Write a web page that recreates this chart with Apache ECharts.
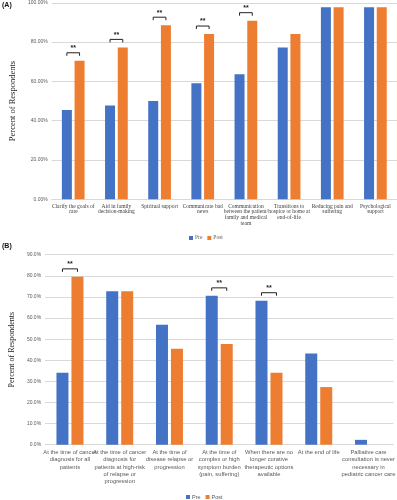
<!DOCTYPE html>
<html><head><meta charset="utf-8">
<script src="https://cdn.jsdelivr.net/npm/echarts@6/dist/echarts.min.js"></script>
<style>html,body{margin:0;padding:0;background:#fff}#c{width:397px;height:500px}</style>
</head><body><div id="c"></div>
<script>
const catsA = ["Clarify the goals of\ncare","Aid in family\ndecision-making","Spiritual support","Communicate bad\nnews","Communication\nbetween the patient/\nfamily and medical\nteam","Transitions to\nhospice or home at\nend-of-life","Reducing pain and\nsuffering","Psychological\nsupport"];
const preA  = [45.5, 47.7, 50.0, 59.1, 63.6, 77.3, 97.7, 97.7];
const postA = [70.5, 77.3, 88.6, 84.1, 90.9, 84.1, 97.7, 97.7];
const sigA  = [0, 1, 2, 3, 4];
const ticksA = [0, 20, 40, 60, 80, 100];

const catsB = ["At the time of cancer\ndiagnosis for all\npatients","At the time of cancer\ndiagnosis for\npatients at high-risk\nof relapse or\nprogression","At the time of\ndisease relapse or\nprogression","At the time of\ncomplex or high\nsymptom burden\n(pain, suffering)","When there are no\nlonger curative\ntherapeutic options\navailable","At the end of life","Palliative care\nconsultation is never\nnecessary in\npediatric cancer care"];
const preB  = [34.1, 72.7, 56.8, 70.5, 68.2, 43.2, 2.3];
const postB = [79.5, 72.7, 45.5, 47.7, 34.1, 27.3, 0];
const sigB  = [0, 3, 4];
const ticksB = [0, 10, 20, 30, 40, 50, 60, 70, 80, 90];

const seriesNames = ["Pre", "Post"];
const BLUE = '#4472C4', ORANGE = '#ED7D31';

function bracketSeries(xi, yi, sig, pre, post, bw, gap) {
  return {
    type: 'custom', xAxisIndex: xi, yAxisIndex: yi, silent: true, z: 5,
    data: sig.map(i => [i, Math.max(pre[i], post[i])]),
    renderItem: function (params, api) {
      const p = api.coord([api.value(0), api.value(1)]);
      const off = (bw + gap) / 2;
      const x1 = p[0] - off, x2 = p[0] + off;
      const y = p[1] - 8;
      return {
        type: 'group',
        children: [
          {type: 'polyline', shape: {points: [[x1, y + 3], [x1, y], [x2, y], [x2, y + 3]]},
           style: {stroke: '#222', lineWidth: 1, fill: null}},
          {type: 'text', x: (x1 + x2) / 2, y: y - 1,
           style: {text: '**', fill: '#222', font: 'bold 7px "Liberation Sans"', align: 'center', verticalAlign: 'bottom'}}
        ]
      };
    }
  };
}

const chart = echarts.init(document.getElementById('c'), null, {renderer: 'canvas'});
const gridCol = '#d9d9d9';
chart.setOption({
  animation: false,
  textStyle: {fontFamily: 'Liberation Sans'},
  graphic: [
    {type: 'text', left: 2, top: 2, style: {text: '(A)', font: 'bold 7px "Liberation Sans"', fill: '#111'}},
    {type: 'text', left: 2, top: 243, style: {text: '(B)', font: 'bold 7px "Liberation Sans"', fill: '#111'}}
  ],
  legend: [
    {data: seriesNames, left: 189, top: 235, padding: 0, itemWidth: 4, itemHeight: 4, itemGap: 5, icon: 'rect',
     textStyle: {fontSize: 5.5, color: '#595959', fontFamily: 'Liberation Serif', padding: [0, 0, 0, -3]}},
    {data: seriesNames, left: 186, top: 494, padding: 0, itemWidth: 4, itemHeight: 4, itemGap: 5, icon: 'rect',
     textStyle: {fontSize: 5.5, color: '#595959', fontFamily: 'Liberation Sans', padding: [0, 0, 0, -3]}}
  ],
  grid: [
    {left: 37, top: 2.8, width: 360, height: 196.5},
    {left: 28, top: 254.7, width: 368, height: 190}
  ],
  xAxis: [
    {type: 'category', gridIndex: 0, data: catsA,
     axisLine: {lineStyle: {color: gridCol}}, axisTick: {show: false},
     axisLabel: {interval: 0, fontSize: 5.5, lineHeight: 5.8, color: '#404040', fontFamily: 'Liberation Serif', margin: 4}},
    {type: 'category', gridIndex: 1, data: catsB,
     axisLine: {lineStyle: {color: gridCol}}, axisTick: {show: false},
     axisLabel: {interval: 0, fontSize: 5.8, lineHeight: 7.3, color: '#595959', fontFamily: 'Liberation Sans', margin: 4}}
  ],
  yAxis: [
    {type: 'value', gridIndex: 0, min: ticksA[0], max: ticksA[ticksA.length - 1], interval: ticksA[1] - ticksA[0],
     name: 'Percent of Respondents', nameLocation: 'middle', nameGap: 31, nameRotate: 90,
     nameTextStyle: {fontFamily: 'Liberation Serif', fontSize: 8.5, color: '#222'},
     splitLine: {lineStyle: {color: gridCol, width: 1}}, axisLine: {show: false}, axisTick: {show: false},
     axisLabel: {fontSize: 5, color: '#595959', margin: 4, formatter: v => v.toFixed(2) + '%'}},
    {type: 'value', gridIndex: 1, min: ticksB[0], max: ticksB[ticksB.length - 1], interval: ticksB[1] - ticksB[0],
     name: 'Percent of Respondents', nameLocation: 'middle', nameGap: 26, nameRotate: 90,
     nameTextStyle: {fontFamily: 'Liberation Serif', fontSize: 8, color: '#222'},
     splitLine: {lineStyle: {color: gridCol, width: 1}}, axisLine: {show: false}, axisTick: {show: false},
     axisLabel: {fontSize: 5, color: '#595959', margin: 4, formatter: v => v.toFixed(1) + '%'}}
  ],
  series: [
    {name: 'Pre', type: 'bar', xAxisIndex: 0, yAxisIndex: 0, data: preA, barWidth: 10, barGap: '27%', itemStyle: {color: BLUE}},
    {name: 'Post', type: 'bar', xAxisIndex: 0, yAxisIndex: 0, data: postA, barWidth: 10, barGap: '27%', itemStyle: {color: ORANGE}},
    {name: 'Pre', type: 'bar', xAxisIndex: 1, yAxisIndex: 1, data: preB, barWidth: 12, barGap: '25%', itemStyle: {color: BLUE}},
    {name: 'Post', type: 'bar', xAxisIndex: 1, yAxisIndex: 1, data: postB, barWidth: 12, barGap: '25%', itemStyle: {color: ORANGE}},
    bracketSeries(0, 0, sigA, preA, postA, 10, 2.7),
    bracketSeries(1, 1, sigB, preB, postB, 12, 3)
  ]
});
</script></body></html>
